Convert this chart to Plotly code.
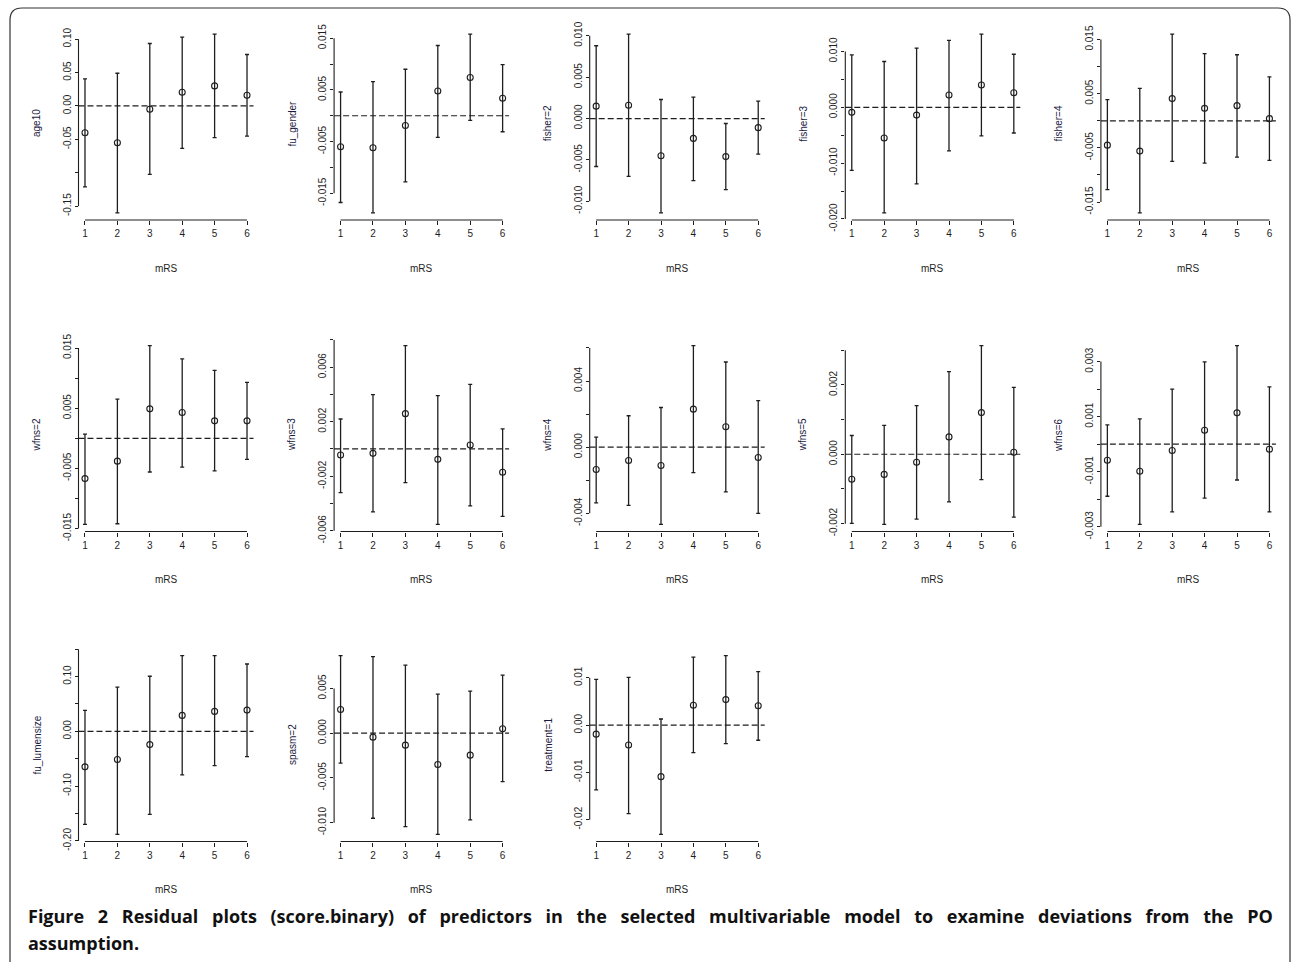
import plotly.graph_objects as go

# ---------------- data ----------------
mRS = [1, 2, 3, 4, 5, 6]
x_ticks = [1, 2, 3, 4, 5, 6]

age10_est = [-0.040, -0.055, -0.005, 0.0205, 0.030, 0.016]
age10_lo = [-0.121, -0.160, -0.1025, -0.0635, -0.0475, -0.045]
age10_hi = [0.0405, 0.049, 0.0935, 0.103, 0.1075, 0.077]
age10_ticks = [-0.15, -0.10, -0.05, 0.0, 0.05, 0.10]
age10_labels = ["-0.15", "", "-0.05", "0.00", "0.05", "0.10"]

fu_gender_est = [-0.0060, -0.0062, -0.0019, 0.0048, 0.0074, 0.0034]
fu_gender_lo = [-0.0168, -0.0188, -0.0128, -0.0042, -0.0009, -0.0031]
fu_gender_hi = [0.0046, 0.0066, 0.0090, 0.0136, 0.0158, 0.0099]
fu_gender_ticks = [-0.015, -0.010, -0.005, 0.0, 0.005, 0.010, 0.015]
fu_gender_labels = ["-0.015", "", "-0.005", "", "0.005", "", "0.015"]

fisher2_est = [0.0015, 0.0016, -0.0045, -0.0024, -0.0046, -0.0011]
fisher2_lo = [-0.0058, -0.0070, -0.0114, -0.0075, -0.0086, -0.0043]
fisher2_hi = [0.0088, 0.0102, 0.0023, 0.0026, -0.0006, 0.0021]
fisher2_ticks = [-0.010, -0.005, 0.0, 0.005, 0.010]
fisher2_labels = ["-0.010", "-0.005", "0.000", "0.005", "0.010"]

fisher3_est = [-0.0009, -0.0055, -0.0014, 0.0022, 0.0040, 0.0026]
fisher3_lo = [-0.0113, -0.0189, -0.0137, -0.0078, -0.0051, -0.0046]
fisher3_hi = [0.0094, 0.0082, 0.0106, 0.0120, 0.0131, 0.0095]
fisher3_ticks = [-0.020, -0.015, -0.010, -0.005, 0.0, 0.005, 0.010]
fisher3_labels = ["-0.020", "", "-0.010", "", "0.000", "", "0.010"]

fisher4_est = [-0.0045, -0.0056, 0.0041, 0.0023, 0.0028, 0.0004]
fisher4_lo = [-0.0127, -0.0170, -0.0075, -0.0078, -0.0067, -0.0073]
fisher4_hi = [0.0039, 0.0060, 0.0160, 0.0124, 0.0122, 0.0081]
fisher4_ticks = [-0.015, -0.010, -0.005, 0.0, 0.005, 0.010, 0.015]
fisher4_labels = ["-0.015", "", "-0.005", "", "0.005", "", "0.015"]

wfns2_est = [-0.0067, -0.0038, 0.0049, 0.0043, 0.0029, 0.0029]
wfns2_lo = [-0.0143, -0.0142, -0.0056, -0.0048, -0.0054, -0.0035]
wfns2_hi = [0.0007, 0.0065, 0.0154, 0.0132, 0.0113, 0.0093]
wfns2_ticks = [-0.015, -0.010, -0.005, 0.0, 0.005, 0.010, 0.015]
wfns2_labels = ["-0.015", "", "-0.005", "", "0.005", "", "0.015"]

wfns3_est = [-0.00044, -0.00032, 0.00259, -0.00076, 0.00029, -0.00171]
wfns3_lo = [-0.00320, -0.00462, -0.00247, -0.00553, -0.00418, -0.00494]
wfns3_hi = [0.00220, 0.00399, 0.00758, 0.00391, 0.00474, 0.00147]
wfns3_ticks = [-0.006, -0.004, -0.002, 0.0, 0.002, 0.004, 0.006, 0.008]
wfns3_labels = ["-0.006", "", "-0.002", "", "0.002", "", "0.006", ""]

wfns4_est = [-0.00135, -0.00081, -0.00111, 0.00230, 0.00123, -0.00063]
wfns4_lo = [-0.00337, -0.00352, -0.00467, -0.00154, -0.00271, -0.00400]
wfns4_hi = [0.00061, 0.00190, 0.00240, 0.00614, 0.00515, 0.00281]
wfns4_ticks = [-0.004, -0.002, 0.0, 0.002, 0.004, 0.006]
wfns4_labels = ["-0.004", "", "0.000", "", "0.004", ""]

wfns5_est = [-0.00072, -0.00058, -0.00023, 0.00050, 0.00120, 0.00006]
wfns5_lo = [-0.00199, -0.00202, -0.00187, -0.00137, -0.00073, -0.00181]
wfns5_hi = [0.00054, 0.00083, 0.00140, 0.00238, 0.00313, 0.00193]
wfns5_ticks = [-0.002, -0.001, 0.0, 0.001, 0.002, 0.003]
wfns5_labels = ["-0.002", "", "0.000", "", "0.002", ""]

wfns6_est = [-0.00058, -0.00098, -0.00023, 0.00051, 0.00114, -0.00018]
wfns6_lo = [-0.00189, -0.00291, -0.00246, -0.00196, -0.00130, -0.00246]
wfns6_hi = [0.00070, 0.00092, 0.00200, 0.00299, 0.00358, 0.00208]
wfns6_ticks = [-0.003, -0.002, -0.001, 0.0, 0.001, 0.002, 0.003]
wfns6_labels = ["-0.003", "", "-0.001", "", "0.001", "", "0.003"]

lumen_est = [-0.0648, -0.0515, -0.0242, 0.0291, 0.0364, 0.0388]
lumen_lo = [-0.1697, -0.1880, -0.1515, -0.0794, -0.0624, -0.0461]
lumen_hi = [0.0382, 0.0806, 0.1006, 0.1382, 0.1382, 0.1230]
lumen_ticks = [-0.20, -0.15, -0.10, -0.05, 0.0, 0.05, 0.10, 0.15]
lumen_labels = ["-0.20", "", "-0.10", "", "0.00", "", "0.10", ""]

spasm2_est = [0.00265, -0.00045, -0.00134, -0.00351, -0.00246, 0.00049]
spasm2_lo = [-0.00336, -0.00951, -0.01045, -0.01131, -0.00970, -0.00541]
spasm2_hi = [0.00866, 0.00854, 0.00761, 0.00437, 0.00470, 0.00649]
spasm2_ticks = [-0.010, -0.005, 0.0, 0.005]
spasm2_labels = ["-0.010", "-0.005", "0.000", "0.005"]

treat1_est = [-0.0019, -0.0042, -0.0109, 0.0042, 0.0054, 0.0041]
treat1_lo = [-0.0137, -0.0187, -0.0231, -0.0058, -0.0039, -0.0032]
treat1_hi = [0.0097, 0.0101, 0.0013, 0.0144, 0.0147, 0.0113]
treat1_ticks = [-0.02, -0.01, 0.0, 0.01]
treat1_labels = ["-0.02", "-0.01", "0.00", "0.01"]

panels = [
    ("age10", age10_est, age10_lo, age10_hi, age10_ticks, age10_labels),
    ("fu_gender", fu_gender_est, fu_gender_lo, fu_gender_hi, fu_gender_ticks, fu_gender_labels),
    ("fisher=2", fisher2_est, fisher2_lo, fisher2_hi, fisher2_ticks, fisher2_labels),
    ("fisher=3", fisher3_est, fisher3_lo, fisher3_hi, fisher3_ticks, fisher3_labels),
    ("fisher=4", fisher4_est, fisher4_lo, fisher4_hi, fisher4_ticks, fisher4_labels),
    ("wfns=2", wfns2_est, wfns2_lo, wfns2_hi, wfns2_ticks, wfns2_labels),
    ("wfns=3", wfns3_est, wfns3_lo, wfns3_hi, wfns3_ticks, wfns3_labels),
    ("wfns=4", wfns4_est, wfns4_lo, wfns4_hi, wfns4_ticks, wfns4_labels),
    ("wfns=5", wfns5_est, wfns5_lo, wfns5_hi, wfns5_ticks, wfns5_labels),
    ("wfns=6", wfns6_est, wfns6_lo, wfns6_hi, wfns6_ticks, wfns6_labels),
    ("fu_lumensize", lumen_est, lumen_lo, lumen_hi, lumen_ticks, lumen_labels),
    ("spasm=2", spasm2_est, spasm2_lo, spasm2_hi, spasm2_ticks, spasm2_labels),
    ("treatment=1", treat1_est, treat1_lo, treat1_hi, treat1_ticks, treat1_labels),
]

x_title = "mRS"
caption_line1 = "Figure 2 Residual plots (score.binary) of predictors in the selected multivariable model to examine deviations from the PO"
caption_line2 = "assumption."

# ---------------- layout geometry (pixels) ----------------
FW, FH = 1292, 962
col_left = [78.5, 334.1, 589.7, 845.3, 1100.9]
plot_w = 175
row_bottom = [220, 531.5, 841.5]
plot_h = 193

def px(x):
    return x / FW

def py(y):
    return 1 - y / FH

INK = "#1e1e1e"
FONT = "Liberation Sans, Arial, sans-serif"

fig = go.Figure()
layout = dict(
    template="none",
    width=FW, height=FH,
    margin=dict(l=0, r=0, t=0, b=0, pad=0, autoexpand=False),
    paper_bgcolor="white", plot_bgcolor="white",
    showlegend=False,
    font=dict(family=FONT, size=10, color=INK),
)
shapes = []
annotations = []

for i, (name, est, lo, hi, yt, yl) in enumerate(panels):
    r, c = divmod(i, 5)
    k = i + 1
    xa = "x" if k == 1 else f"x{k}"
    ya = "y" if k == 1 else f"y{k}"
    L = col_left[c]
    B = row_bottom[r]
    T = B - plot_h

    dmin, dmax = min(lo), max(hi)
    ext = 0.04 * (dmax - dmin)

    fig.add_trace(go.Scatter(
        x=mRS, y=est, xaxis=xa, yaxis=ya, mode="markers",
        marker=dict(symbol="circle-open", size=6, color=INK, line=dict(width=1.1, color=INK)),
        error_y=dict(type="data", symmetric=False,
                     array=[h - e for h, e in zip(hi, est)],
                     arrayminus=[e - l for e, l in zip(est, lo)],
                     color=INK, thickness=1.3, width=2),
        hoverinfo="skip",
    ))

    layout["xaxis" if k == 1 else f"xaxis{k}"] = dict(
        domain=[px(L), px(L + plot_w)], anchor=ya, automargin=False,
        range=[0.8, 6.2], tickvals=x_ticks, ticktext=[str(v) for v in x_ticks],
        ticks="outside", ticklen=4, tickwidth=1, tickcolor=INK,
        showline=False, showgrid=False, zeroline=False,
        tickfont=dict(size=10, color=INK), fixedrange=True,
    )
    layout["yaxis" if k == 1 else f"yaxis{k}"] = dict(
        domain=[py(B), py(T)], anchor=xa, automargin=False,
        range=[dmin - ext, dmax + ext], tickvals=yt, ticktext=yl,
        ticks="outside", ticklen=3, tickwidth=1, tickcolor=INK,
        tickangle=-90,
        showline=False, showgrid=False, zeroline=False,
        tickfont=dict(size=10, color=INK), fixedrange=True,
    )

    # R-style axis lines spanning only the tick range
    shapes.append(dict(type="line", xref=xa, yref=f"{ya} domain",
                       x0=min(x_ticks), x1=max(x_ticks), y0=0, y1=0,
                       line=dict(color=INK, width=1.1)))
    shapes.append(dict(type="line", xref=f"{xa} domain", yref=ya,
                       x0=0, x1=0, y0=min(yt), y1=max(yt),
                       line=dict(color=INK, width=1.1)))
    # dashed reference line at zero
    shapes.append(dict(type="line", xref=f"{xa} domain", yref=ya,
                       x0=0, x1=1, y0=0, y1=0,
                       line=dict(color=INK, width=1.2, dash="6px,3px")))

    annotations.append(dict(text=name, x=px(L - 42), y=py((T + B) / 2),
                            xref="paper", yref="paper", showarrow=False,
                            textangle=-90, xanchor="center", yanchor="middle",
                            font=dict(size=10, color="#1a1a40", family=FONT)))
    annotations.append(dict(text=x_title, x=px(L + plot_w / 2), y=py(B + 48),
                            xref="paper", yref="paper", showarrow=False,
                            xanchor="center", yanchor="middle",
                            font=dict(size=10, color=INK, family=FONT)))

# caption (first line justified by widening the word gaps)
line1_just = " \u2002".join(caption_line1.split(" "))
annotations.append(dict(text="<b>" + line1_just + "</b>", x=px(26), y=py(916),
                        xref="paper", yref="paper", showarrow=False,
                        xanchor="left", yanchor="middle",
                        font=dict(size=18, color="#111", family="Open Sans, sans-serif")))
annotations.append(dict(text="<b>" + caption_line2 + "</b>", x=px(26), y=py(943),
                        xref="paper", yref="paper", showarrow=False,
                        xanchor="left", yanchor="middle",
                        font=dict(size=18, color="#111", family="Open Sans, sans-serif")))

# rounded outer frame
x0, x1, y0, y1, rad = px(10), px(1290), py(8), py(975), 12
rx, ry = rad / FW, rad / FH
frame = (f"M {x0},{y1} L {x0},{y0 - ry} Q {x0},{y0} {x0 + rx},{y0} "
         f"L {x1 - rx},{y0} Q {x1},{y0} {x1},{y0 - ry} L {x1},{y1}")
shapes.append(dict(type="path", xref="paper", yref="paper", path=frame,
                   line=dict(color="#333", width=1.2)))

layout["shapes"] = shapes
layout["annotations"] = annotations
fig.update_layout(**layout)

fig.write_html("out.html", config={"displayModeBar": False},
               post_script="document.body.style.margin='0';document.body.style.overflow='hidden';")
